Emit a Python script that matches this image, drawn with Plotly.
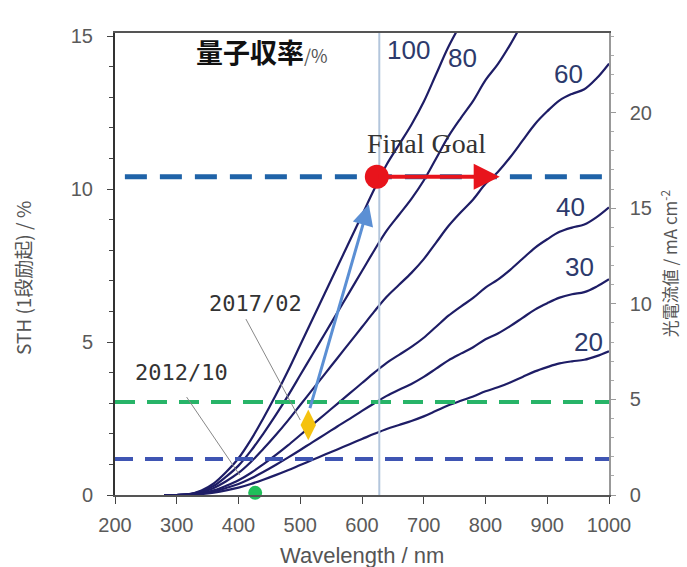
import plotly.graph_objects as go

# ---------------- data ----------------
wavelength = [280, 300, 320, 340, 360, 380, 400, 420, 440, 460, 480, 500, 520, 540, 560, 580,
              600, 620, 640, 660, 680, 700, 720, 740, 760, 780, 800, 820, 840, 860, 880, 900,
              920, 940, 960, 980, 1000]

qe100 = [0, 0, 0.03, 0.15, 0.38, 0.75, 1.2, 1.8, 2.5, 3.25, 4.05, 4.9, 5.75, 6.6, 7.45, 8.3,
         9.15, 10.0, 10.8, 11.45, 12.1, 12.85, 13.75, 14.65, 15.4, 16.1, 16.95, 17.6, 18.4,
         19.3, 20.2, 20.9, 21.5, 21.85, 22.1, 22.7, 23.5]
qe80 = [0, 0, 0.02, 0.12, 0.3, 0.6, 0.96, 1.44, 2.0, 2.6, 3.24, 3.92, 4.6, 5.28, 5.96, 6.64,
        7.32, 8.0, 8.64, 9.16, 9.68, 10.28, 11.0, 11.72, 12.32, 12.88, 13.56, 14.08, 14.72,
        15.44, 16.16, 16.72, 17.2, 17.48, 17.68, 18.16, 18.8]
qe60 = [0, 0, 0.02, 0.09, 0.23, 0.45, 0.72, 1.08, 1.5, 1.95, 2.43, 2.94, 3.45, 3.96, 4.47, 4.98,
        5.49, 6.0, 6.48, 6.87, 7.26, 7.71, 8.25, 8.79, 9.24, 9.66, 10.17, 10.56, 11.04, 11.58,
        12.12, 12.54, 12.9, 13.11, 13.26, 13.62, 14.1]
qe40 = [0, 0, 0.01, 0.06, 0.15, 0.3, 0.48, 0.72, 1.0, 1.3, 1.62, 1.96, 2.3, 2.64, 2.98, 3.32,
        3.66, 4.0, 4.32, 4.58, 4.84, 5.14, 5.5, 5.86, 6.16, 6.44, 6.78, 7.04, 7.36, 7.72, 8.08,
        8.36, 8.6, 8.74, 8.84, 9.08, 9.4]
qe30 = [0, 0, 0.01, 0.05, 0.11, 0.23, 0.36, 0.54, 0.75, 0.98, 1.22, 1.47, 1.73, 1.98, 2.24, 2.49,
        2.75, 3.0, 3.24, 3.44, 3.63, 3.86, 4.13, 4.4, 4.62, 4.83, 5.09, 5.28, 5.52, 5.79, 6.06,
        6.27, 6.45, 6.56, 6.63, 6.81, 7.05]
qe20 = [0, 0, 0.01, 0.03, 0.08, 0.15, 0.24, 0.36, 0.5, 0.65, 0.81, 0.98, 1.15, 1.32, 1.49, 1.66,
        1.83, 2.0, 2.16, 2.29, 2.42, 2.57, 2.75, 2.93, 3.08, 3.22, 3.39, 3.52, 3.68, 3.86, 4.04,
        4.18, 4.3, 4.37, 4.42, 4.54, 4.7]

curve_labels = ["100", "80", "60", "40", "30", "20"]
curve_values = [qe100, qe80, qe60, qe40, qe30, qe20]
label_x = [675, 762, 934, 938, 953, 966]
label_y = [14.54, 14.28, 13.76, 9.41, 7.45, 5.0]

# target levels (STH %)
goal_level = 10.4
level_2017 = 3.04
level_2012 = 1.18
goal_wavelength = 628

# points
goal_pt = (624, 10.4)
goal_end = (823, 10.4)
pt_2017 = (513, 2.29)
arrow_2017_end = (611, 9.5)
pt_2012 = (427, 0.07)

x_ticks = [200, 300, 400, 500, 600, 700, 800, 900, 1000]
y_ticks = [0, 5, 10, 15]
y2_ticks = [0, 5, 10, 15, 20]

YMAX = 15.1
Y2MAX = YMAX * 1.6

fig = go.Figure()

curve_color = "#1e1d66"
for name, vals in zip(curve_labels, curve_values):
    fig.add_trace(go.Scatter(x=wavelength, y=vals, mode="lines",
                             line=dict(color=curve_color, width=2.2, shape="spline"),
                             name=name, showlegend=False, hoverinfo="skip"))

# horizontal dashed level lines
fig.add_trace(go.Scatter(x=[216, 1000], y=[goal_level, goal_level], mode="lines",
                         line=dict(color="#1f63a8", width=5, dash="22px,13px"), showlegend=False))
fig.add_trace(go.Scatter(x=[200, 1000], y=[level_2017, level_2017], mode="lines",
                         line=dict(color="#27b468", width=4, dash="20px,12px"), showlegend=False))
fig.add_trace(go.Scatter(x=[200, 1000], y=[level_2012, level_2012], mode="lines",
                         line=dict(color="#3f55b3", width=4, dash="18px,12px"), showlegend=False))
# vertical line
fig.add_trace(go.Scatter(x=[goal_wavelength, goal_wavelength], y=[0, YMAX], mode="lines",
                         line=dict(color="#b3c6dc", width=2), showlegend=False))

# markers
fig.add_trace(go.Scatter(x=[pt_2017[0]], y=[pt_2017[1]], mode="markers",
                         marker=dict(symbol="diamond-tall", size=22, color="#f5c20f"), showlegend=False))
fig.add_trace(go.Scatter(x=[pt_2012[0]], y=[pt_2012[1]], mode="markers", cliponaxis=False,
                         marker=dict(symbol="circle", size=14, color="#1fbf5a"), showlegend=False))
fig.add_trace(go.Scatter(x=[goal_pt[0]], y=[goal_pt[1]], mode="markers",
                         marker=dict(symbol="circle", size=24, color="#e8141c"), showlegend=False))

annotations = []
# curve labels
for t, lx, ly in zip(curve_labels, label_x, label_y):
    annotations.append(dict(x=lx, y=ly, text=t, showarrow=False, xref="x", yref="y",
                            font=dict(family="Liberation Sans", size=26, color="#2d3a6c")))

# title inside
annotations.append(dict(x=328, y=14.48, xanchor="left",
                        text="<b>量子収率</b><span style='font-size:18px;color:#555'>/%</span>",
                        showarrow=False, font=dict(family="Noto Sans CJK JP", size=27, color="#111")))
annotations.append(dict(x=705, y=11.5, text="Final Goal", showarrow=False,
                        font=dict(family="Liberation Serif", size=28, color="#333")))
annotations.append(dict(x=427, y=6.27, text="2017/02", showarrow=False,
                        font=dict(family="DejaVu Sans Mono", size=22, color="#333")))
annotations.append(dict(x=308, y=3.99, text="2012/10", showarrow=False,
                        font=dict(family="DejaVu Sans Mono", size=22, color="#333")))

# arrows
annotations.append(dict(x=goal_end[0], y=goal_end[1], ax=goal_pt[0], ay=goal_pt[1], axref="x", ayref="y",
                        xref="x", yref="y", text="", showarrow=True, arrowhead=2, arrowsize=1.3,
                        arrowwidth=4, arrowcolor="#e8141c"))
annotations.append(dict(x=arrow_2017_end[0], y=arrow_2017_end[1], ax=pt_2017[0] + 2, ay=pt_2017[1] + 0.5,
                        axref="x", ayref="y", xref="x", yref="y", text="", showarrow=True, arrowhead=2,
                        arrowsize=1.4, arrowwidth=3, arrowcolor="#5b8fd4"))

# axis titles
annotations.append(dict(xref="paper", yref="paper", x=-0.186, y=0.47, xanchor="center", yanchor="middle",
                        text="STH (1段励起) / %", textangle=-90,
                        showarrow=False, font=dict(family="Noto Sans CJK JP", size=19, color="#555")))
annotations.append(dict(xref="paper", yref="paper", x=1.122, y=0.50, xanchor="center", yanchor="middle",
                        text="光電流値 / mA cm<sup>-2</sup>",
                        textangle=-90, showarrow=False,
                        font=dict(family="Noto Sans CJK JP", size=17, color="#555")))
annotations.append(dict(xref="paper", yref="paper", x=0.5, y=-0.13, yanchor="middle",
                        text="Wavelength / nm", showarrow=False,
                        font=dict(family="Liberation Sans", size=22, color="#555")))

fig.update_layout(annotations=annotations)

# leader lines
fig.add_shape(type="line", x0=412, y0=5.75, x1=500, y1=2.45, xref="x", yref="y",
              line=dict(color="#888", width=1))
fig.add_shape(type="line", x0=316, y0=3.2, x1=402, y1=0.65, xref="x", yref="y",
              line=dict(color="#888", width=1))

# dummy trace to enable y2 axis
fig.add_trace(go.Scatter(x=[200], y=[0], yaxis="y2", mode="markers", marker=dict(opacity=0),
                         showlegend=False, hoverinfo="skip"))

tick_font = dict(family="Liberation Sans", size=20, color="#5a5a5a")
fig.update_layout(
    width=687, height=567,
    margin=dict(l=115, r=78, t=33, b=72),
    paper_bgcolor="white", plot_bgcolor="white",
    showlegend=False,
    xaxis=dict(range=[200, 1000], tickvals=x_ticks, ticks="outside", ticklen=7, tickcolor="#444",
               showline=True, linecolor="#555", linewidth=2, mirror=True, showgrid=False, zeroline=False,
               tickfont=tick_font, ticklabelstandoff=4),
    yaxis=dict(range=[0, YMAX], tickvals=y_ticks, ticks="outside", ticklen=6, tickcolor="#444",
               minor=dict(dtick=1, ticks="outside", ticklen=4, tickcolor="#444"),
               showline=True, linecolor="#333", linewidth=2, showgrid=False, zeroline=False,
               tickfont=tick_font, ticklabelstandoff=10),
    yaxis2=dict(range=[0, Y2MAX], overlaying="y", side="right", tickvals=y2_ticks, ticks="outside",
                ticklen=5, tickcolor="#999", minor=dict(dtick=1, ticks="outside", ticklen=3, tickcolor="#aaa"),
                showline=True, linecolor="#999", linewidth=1.5, showgrid=False, zeroline=False,
                tickfont=tick_font, ticklabelstandoff=10),
)

fig.write_html("out.html")
